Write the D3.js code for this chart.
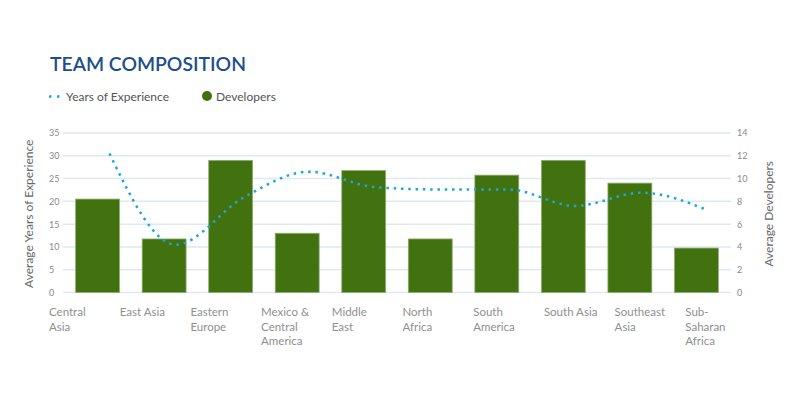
<!DOCTYPE html>
<html>
<head>
<meta charset="utf-8">
<script src="https://cdn.jsdelivr.net/npm/d3@7"></script>
<style>
  html, body { margin: 0; padding: 0; background: #fff; }
  svg { display: block; font-family: Lato, "Open Sans", sans-serif; }
</style>
</head>
<body>
<svg id="chart" width="800" height="400"></svg>
<script>
const categories = ["Central Asia", "East Asia", "Eastern Europe", "Mexico & Central America", "Middle East",
  "North Africa", "South America", "South Asia", "Southeast Asia", "Sub-Saharan Africa"];
const categoryLabelLines = [["Central", "Asia"], ["East Asia"], ["Eastern", "Europe"], ["Mexico &", "Central", "America"],
  ["Middle", "East"], ["North", "Africa"], ["South", "America"], ["South Asia"], ["Southeast", "Asia"], ["Sub-", "Saharan", "Africa"]];
const developers = [8.2, 4.7, 11.6, 5.2, 10.7, 4.7, 10.3, 11.6, 9.6, 3.9];
const experience = [30.5, 10.5, 20.7, 26.5, 23.1, 22.6, 22.6, 19.0, 21.9, 18.0];
const leftTicks = [0, 5, 10, 15, 20, 25, 30, 35];
const rightTicks = [0, 2, 4, 6, 8, 10, 12, 14];

const svg = d3.select("#chart");
const plotLeft = 63, plotRight = 731, plotTop = 133, plotBottom = 292.5;

const x = d3.scaleBand().domain(categories).range([plotLeft, plotRight]).paddingInner(0.34).paddingOuter(0.19);
const xLabel = d3.scaleBand().domain(categories).range([49, 756]);
const yL = d3.scaleLinear().domain([0, 35]).range([plotBottom, plotTop]);
const yR = d3.scaleLinear().domain([0, 14]).range([plotBottom, plotTop]);

// title
svg.append("text").attr("x", 50).attr("y", 71)
  .attr("fill", "#1d4f8c").attr("font-size", 20).attr("font-weight", 600)
  .attr("textLength", 196).attr("lengthAdjust", "spacingAndGlyphs")
  .text("TEAM COMPOSITION");

// legend
const lg = svg.append("g");
lg.append("line").attr("x1", 49).attr("x2", 62).attr("y1", 96.5).attr("y2", 96.5)
  .attr("stroke", "#1aa7d6").attr("stroke-width", 2.5).attr("stroke-dasharray", "2.5,5.5");
lg.append("text").attr("x", 66).attr("y", 100.5).attr("font-size", 12).attr("fill", "#555")
  .text("Years of Experience");
lg.append("circle").attr("cx", 207).attr("cy", 96).attr("r", 5).attr("fill", "#41720f");
lg.append("text").attr("x", 216).attr("y", 100.5).attr("font-size", 12).attr("fill", "#555")
  .text("Developers");

// gridlines
svg.append("g").selectAll("line").data(leftTicks).join("line")
  .attr("x1", plotLeft).attr("x2", plotRight)
  .attr("y1", d => yL(d)).attr("y2", d => yL(d))
  .attr("stroke", "#dfe9ef").attr("stroke-width", 1.5);

// left axis
const axL = svg.append("g").attr("transform", "translate(49,0)")
  .call(d3.axisLeft(yL).tickValues(leftTicks).tickSize(0).tickPadding(0));
axL.select(".domain").remove();
axL.selectAll("text").attr("text-anchor", "start").attr("x", 0)
  .attr("fill", "#8a8a8a").attr("font-size", 9).attr("font-family", "Lato, sans-serif");

// right axis
const axR = svg.append("g").attr("transform", "translate(737,0)")
  .call(d3.axisRight(yR).tickValues(rightTicks).tickSize(0).tickPadding(0));
axR.select(".domain").remove();
axR.selectAll("text").attr("text-anchor", "start").attr("x", 0)
  .attr("fill", "#8a8a8a").attr("font-size", 9).attr("font-family", "Lato, sans-serif");

// axis titles
svg.append("text").attr("transform", `translate(33,${(plotTop + plotBottom) / 2 + 1}) rotate(-90)`)
  .attr("text-anchor", "middle").attr("font-size", 12).attr("fill", "#666")
  .text("Average Years of Experience");
svg.append("text").attr("transform", `translate(773,${(plotTop + plotBottom) / 2 + 1}) rotate(-90)`)
  .attr("text-anchor", "middle").attr("font-size", 12).attr("fill", "#666")
  .text("Average Developers");

// bars
svg.append("g").selectAll("rect").data(categories).join("rect")
  .attr("x", d => x(d)).attr("width", x.bandwidth())
  .attr("y", (d, i) => yR(developers[i]))
  .attr("height", (d, i) => plotBottom - yR(developers[i]))
  .attr("fill", "#41720f").attr("stroke", "#8fae70").attr("stroke-width", 0.8);

// line
const line = d3.line()
  .x((d, i) => x(categories[i]) + x.bandwidth() * 0.77)
  .y(d => yL(d))
  .curve(d3.curveMonotoneX);
svg.append("path").datum(experience).attr("d", line)
  .attr("fill", "none").attr("stroke", "#1aa7d6").attr("stroke-width", 2.5)
  .attr("stroke-dasharray", "2.5,4.8");

// x labels
const xl = svg.append("g");
categories.forEach((c, i) => {
  const t = xl.append("text").attr("x", xLabel(c)).attr("y", 316)
    .attr("font-size", 11.5).attr("fill", "#8f8f8f");
  categoryLabelLines[i].forEach((ln, j) => {
    t.append("tspan").attr("x", xLabel(c)).attr("y", 316 + j * 14.5).text(ln);
  });
});
</script>
</body>
</html>
